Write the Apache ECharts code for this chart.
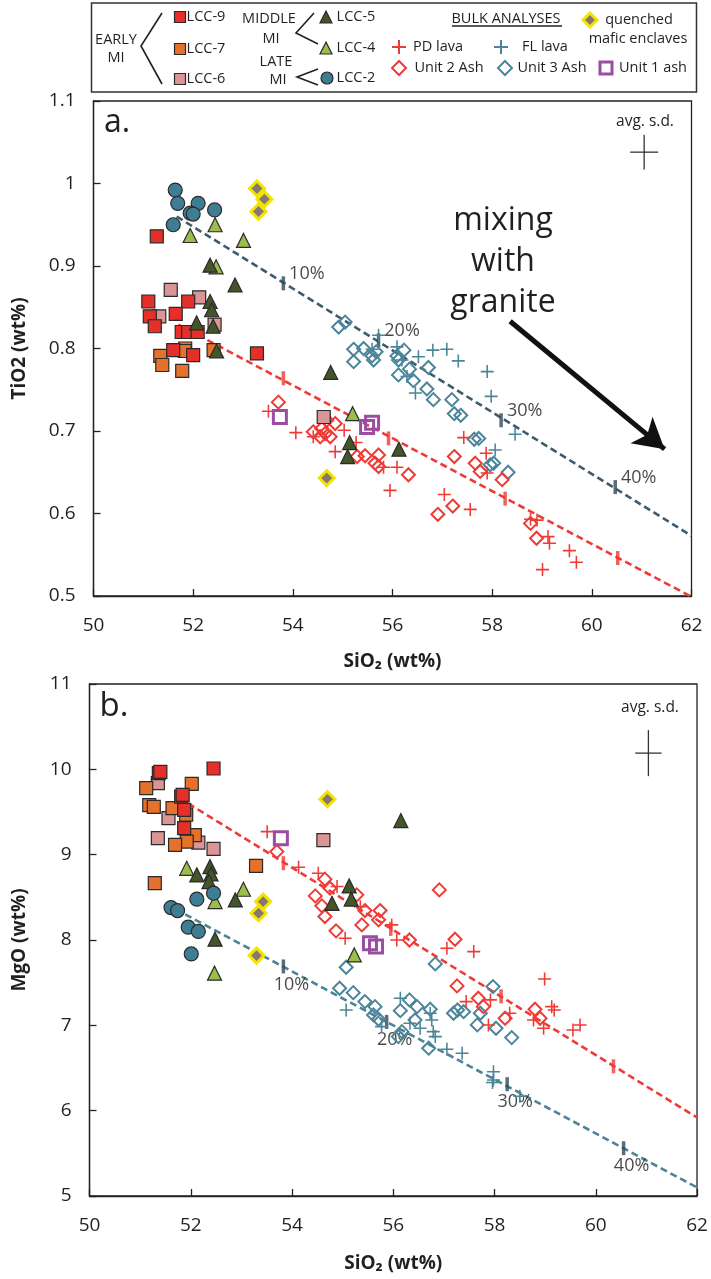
<!DOCTYPE html>
<html><head><meta charset="utf-8">
<script src="https://cdn.jsdelivr.net/npm/echarts@6/dist/echarts.min.js"></script>
<style>html,body{margin:0;padding:0;background:#fff}#c{width:711px;height:1279px}</style>
</head><body><div id="c"></div>
<script>
// ---------- DATA (SiO2, value) ----------
// Panel a: TiO2
const a_LCC9 = [[51.27,0.936],[51.10,0.857],[51.90,0.857],[51.13,0.839],[51.65,0.842],[51.23,0.827],[51.77,0.820],[51.90,0.820],[52.09,0.820],[51.60,0.798],[52.00,0.792],[53.28,0.794]];
const a_LCC7 = [[51.84,0.800],[51.83,0.797],[51.34,0.791],[51.38,0.780],[51.78,0.773],[52.41,0.798]];
const a_LCC6 = [[51.55,0.871],[52.12,0.862],[51.32,0.839],[52.43,0.829],[54.62,0.717]];
const a_LCC5 = [[52.34,0.901],[52.84,0.877],[52.34,0.857],[52.37,0.847],[52.07,0.831],[52.40,0.827],[52.47,0.797],[54.76,0.771],[55.14,0.686],[55.10,0.669],[56.13,0.678]];
const a_LCC4 = [[52.44,0.950],[51.94,0.937],[53.01,0.931],[52.46,0.899],[55.20,0.721]];
const a_LCC2 = [[51.64,0.992],[51.69,0.976],[52.10,0.976],[51.94,0.964],[52.00,0.963],[52.43,0.968],[51.60,0.950]];
const a_quenched = [[53.28,0.994],[53.43,0.981],[53.31,0.966],[54.68,0.643]];
const a_unit1 = [[53.74,0.717],[55.49,0.705],[55.59,0.710]];
const a_PD = [[53.51,0.724],[54.06,0.698],[54.41,0.693],[55.03,0.701],[54.85,0.675],[55.27,0.686],[55.82,0.656],[56.09,0.656],[55.95,0.628],[57.04,0.623],[57.56,0.605],[57.43,0.692],[57.88,0.673],[57.90,0.649],[58.77,0.593],[58.90,0.592],[59.12,0.572],[59.15,0.564],[59.55,0.555],[59.69,0.541],[59.01,0.532]];
const a_unit2 = [[53.71,0.735],[54.41,0.699],[54.58,0.703],[54.65,0.697],[54.75,0.693],[54.68,0.713],[54.85,0.709],[54.55,0.693],[55.29,0.669],[55.45,0.670],[55.72,0.671],[55.65,0.661],[55.72,0.657],[56.32,0.647],[57.24,0.669],[57.66,0.661],[57.76,0.651],[58.20,0.641],[57.21,0.609],[56.91,0.599],[58.77,0.588],[58.89,0.570]];
const a_FL = [[55.72,0.816],[56.09,0.802],[56.52,0.790],[56.81,0.798],[57.09,0.799],[57.32,0.785],[57.90,0.772],[57.98,0.742],[58.46,0.696],[58.06,0.677],[56.29,0.766],[56.46,0.746],[56.19,0.786],[55.59,0.799]];
const a_unit3 = [[54.92,0.826],[55.05,0.832],[55.22,0.799],[55.22,0.784],[55.42,0.800],[55.59,0.791],[55.62,0.786],[55.67,0.796],[56.09,0.791],[56.12,0.786],[56.23,0.798],[56.12,0.768],[56.34,0.775],[56.42,0.761],[56.69,0.751],[56.82,0.738],[56.72,0.777],[57.19,0.738],[57.24,0.721],[57.37,0.719],[57.64,0.690],[57.73,0.691],[57.96,0.659],[58.03,0.661],[58.32,0.650]];
const a_blueLine = [[51.67,0.960],[62,0.573]];
const a_redLine = [[51.70,0.829],[62,0.499]];
const a_blueTicks = [[53.81,0.879],[55.72,0.810],[58.18,0.713],[60.47,0.632]];
const a_redTicks = [[53.81,0.764],[55.92,0.691],[58.26,0.618],[60.52,0.546]];
const a_arrow = [[58.36,0.833],[61.46,0.678]];
const a_sd = [[61.05,1.038,0.28,0.021]];

// Panel b: MgO
const b_LCC9 = [[51.37,9.955],[51.40,9.97],[52.45,10.01],[51.81,9.68],[51.87,9.525],[51.87,9.31],[51.84,9.70]];
const b_LCC7 = [[51.12,9.78],[52.02,9.83],[51.18,9.58],[51.27,9.56],[51.64,9.545],[51.91,9.47],[52.08,9.23],[51.92,9.154],[51.69,9.115],[53.29,8.869],[51.29,8.666]];
const b_LCC6 = [[51.35,9.838],[51.56,9.428],[51.35,9.193],[52.15,9.142],[52.45,9.068],[54.62,9.17]];
const b_LCC5 = [[52.12,8.763],[52.38,8.86],[52.40,8.775],[52.36,8.685],[52.88,8.47],[52.48,8.01],[54.79,8.43],[55.13,8.634],[55.17,8.48],[56.15,9.40]];
const b_LCC4 = [[51.92,8.84],[53.04,8.595],[52.48,8.45],[52.47,7.611],[55.23,7.825]];
const b_LCC2 = [[52.12,8.478],[52.45,8.549],[51.61,8.38],[51.74,8.345],[51.95,8.15],[52.15,8.10],[52.01,7.837]];
const b_quenched = [[53.43,8.45],[53.34,8.314],[53.30,7.817],[54.70,9.65]];
const b_unit1 = [[53.78,9.193],[55.54,7.962],[55.66,7.923]];
const b_PD = [[53.51,9.27],[54.13,8.853],[54.52,8.783],[54.89,8.626],[55.05,8.02],[55.35,8.39],[55.97,8.177],[56.07,8.00],[57.06,7.904],[57.59,7.864],[58.99,7.544],[57.44,7.278],[57.92,7.298],[57.88,7.005],[58.30,7.142],[58.77,7.063],[59.13,7.219],[59.18,7.18],[58.97,6.966],[59.55,6.946],[59.69,7.005]];
const b_unit2 = [[53.70,9.036],[54.65,8.713],[54.75,8.607],[54.46,8.517],[54.59,8.40],[54.65,8.275],[54.87,8.107],[55.28,8.529],[55.44,8.345],[55.74,8.345],[55.71,8.236],[55.38,8.177],[56.32,8.00],[56.91,8.587],[57.22,8.009],[57.26,7.462],[57.68,7.318],[57.78,7.219],[58.21,7.083],[58.80,7.189],[58.90,7.083]];
const b_FL = [[55.07,7.18],[56.14,7.318],[56.33,7.025],[56.53,6.966],[56.79,6.926],[56.83,6.868],[57.06,6.72],[57.36,6.673],[57.98,6.457],[57.98,6.36],[55.77,6.985],[56.73,7.142],[56.76,7.063],[58.50,6.17],[57.96,6.33]];
const b_unit3 = [[55.07,7.681],[56.83,7.72],[57.97,7.454],[54.94,7.435],[55.21,7.383],[55.44,7.278],[55.64,7.219],[55.61,7.122],[55.71,7.071],[56.14,7.172],[56.32,7.298],[56.47,7.219],[56.73,7.189],[56.43,7.063],[57.19,7.142],[57.27,7.18],[57.39,7.16],[57.72,7.142],[57.66,7.005],[58.03,6.966],[58.34,6.856],[56.17,6.926],[56.10,6.868],[56.70,6.732]];
const b_blueLine = [[51.89,8.30],[62,5.10]];
const b_redLine = [[51.95,9.60],[62,5.92]];
const b_blueTicks = [[53.83,7.69],[55.87,7.04],[58.25,6.31],[60.55,5.56]];
const b_redTicks = [[53.83,8.90],[55.95,8.13],[58.13,7.34],[60.35,6.52]];
const b_sd = [[61.04,10.19,0.26,0.27]];

const pctLabels = ['10%','20%','30%','40%'];
const xTicks = [50,52,54,56,58,60,62];

// ---------- STYLE ----------
const FONT = '"Open Sans", "Noto Sans", sans-serif';
const TXT = '#231F20';
const C = {
  lcc9:'#E52F28', lcc7:'#E5712B', lcc6:'#DA9596', lcc5:'#45552A', lcc4:'#9CBC4C', lcc2:'#3E7E94',
  qFill:'#85786F', qBorder:'#F2E400', pd:'#EE3B36', fl:'#4B8599', u1:'#9B4CA3',
  lineA:'#3D5B6B', lineB:'#4C8497', edge:'#2A2A2A'
};
const PLUS = 'path://M44,0h12v44h44v12h-44v44h-12v-44h-44v-12h44z';

function sc(data, gi, symbol, size, color, border, bw, z) {
  return {type:'scatter', data, xAxisIndex:gi, yAxisIndex:gi, symbol, symbolSize:size,
    itemStyle:{color, borderColor:border, borderWidth:bw, opacity:1}, z, silent:true};
}
function dashLine(data, gi, color) {
  return {type:'line', data, xAxisIndex:gi, yAxisIndex:gi, symbol:'none', z:2, silent:true,
    lineStyle:{color, width:2.6, type:[7,4]}};
}
function ticks(data, gi, color, labelCfg) {
  return {type:'scatter', data, xAxisIndex:gi, yAxisIndex:gi, symbol:'rect', symbolSize:[3.5,14],
    itemStyle:{color}, z:3, silent:true,
    label: labelCfg ? Object.assign({show:true, formatter:p=>pctLabels[p.dataIndex], fontFamily:FONT, fontSize:18, color:'#1a1a1a'}, labelCfg) : {show:false}};
}
function sdCross(data, gi) {
  return {type:'custom', data, xAxisIndex:gi, yAxisIndex:gi, z:3, silent:true,
    renderItem:(params, api) => {
      const x = api.value(0), y = api.value(1), dx = api.value(2), dy = api.value(3);
      const l = api.coord([x-dx,y]), r = api.coord([x+dx,y]), t = api.coord([x,y+dy]), b = api.coord([x,y-dy]);
      const st = {stroke:'#333', lineWidth:1.3};
      return {type:'group', children:[
        {type:'line', shape:{x1:l[0],y1:l[1],x2:r[0],y2:r[1]}, style:st},
        {type:'line', shape:{x1:t[0],y1:t[1],x2:b[0],y2:b[1]}, style:st}]};
    }};
}
function panelSeries(gi, d) {
  const s = [];
  s.push(dashLine(d.blueLine, gi, d.lineBlue));
  s.push(dashLine(d.redLine, gi, C.pd));
  s.push(ticks(d.blueTicks, gi, '#2F4A58', d.labelCfg));
  s.push(ticks(d.redTicks, gi, C.pd, null));
  s.push(sc(d.FL, gi, PLUS, 13, C.fl, 'transparent', 0, 4));
  s.push(sc(d.unit3, gi, 'diamond', 13, 'rgba(0,0,0,0)', C.fl, 2, 4));
  s.push(sc(d.PD, gi, PLUS, 13, C.pd, 'transparent', 0, 5));
  s.push(sc(d.unit2, gi, 'diamond', 13, 'rgba(0,0,0,0)', C.pd, 2, 5));
  s.push(sc(d.LCC6, gi, 'rect', 13, C.lcc6, C.edge, 1.2, 6));
  s.push(sc(d.LCC7, gi, 'rect', 13, C.lcc7, C.edge, 1.2, 6));
  s.push(sc(d.LCC9, gi, 'rect', 13, C.lcc9, C.edge, 1.2, 6));
  s.push(sc(d.LCC4, gi, 'triangle', 14, C.lcc4, C.edge, 1.2, 7));
  s.push(sc(d.LCC5, gi, 'triangle', 14, C.lcc5, C.edge, 1.2, 7));
  s.push(sc(d.LCC2, gi, 'circle', 14, C.lcc2, C.edge, 1.2, 7));
  s.push(sc(d.unit1, gi, 'rect', 13, 'rgba(0,0,0,0)', C.u1, 3, 8));
  s.push(sc(d.quenched, gi, 'diamond', 15, C.qFill, C.qBorder, 3, 8));
  s.push(sdCross(d.sd, gi));
  return s;
}

const seriesA = panelSeries(0, {blueLine:a_blueLine, redLine:a_redLine, blueTicks:a_blueTicks, redTicks:a_redTicks,
  lineBlue:C.lineA, labelCfg:{position:'right', distance:4, offset:[0,-9]},
  FL:a_FL, unit3:a_unit3, PD:a_PD, unit2:a_unit2, LCC6:a_LCC6, LCC7:a_LCC7, LCC9:a_LCC9, LCC4:a_LCC4, LCC5:a_LCC5, LCC2:a_LCC2, unit1:a_unit1, quenched:a_quenched, sd:a_sd});
const seriesB = panelSeries(1, {blueLine:b_blueLine, redLine:b_redLine, blueTicks:b_blueTicks, redTicks:b_redTicks,
  lineBlue:C.lineB, labelCfg:{position:'bottom', distance:2, offset:[8,0]},
  FL:b_FL, unit3:b_unit3, PD:b_PD, unit2:b_unit2, LCC6:b_LCC6, LCC7:b_LCC7, LCC9:b_LCC9, LCC4:b_LCC4, LCC5:b_LCC5, LCC2:b_LCC2, unit1:b_unit1, quenched:b_quenched, sd:b_sd});
// arrow "mixing with granite"
seriesA.push({type:'line', data:a_arrow, xAxisIndex:0, yAxisIndex:0, symbol:'none', z:3, silent:true,
  lineStyle:{color:'#111', width:5},
  markLine:{silent:true, symbol:['none','arrow'], symbolSize:[26,30], animation:false,
    lineStyle:{color:'#111', width:0.01, type:'solid'}, label:{show:false},
    data:[[{coord:a_arrow[0]},{coord:a_arrow[1]}]]}});

function xAx(gi, gap) {
  return {type:'value', gridIndex:gi, min:50, max:62, interval:2,
    name:'SiO₂ (wt%)', nameLocation:'middle', nameGap:gap,
    nameTextStyle:{fontFamily:FONT, fontSize:19, fontWeight:'bold', color:TXT},
    axisLine:{show:true, lineStyle:{color:'#222', width:1.3}},
    axisTick:{show:true, inside:true, length:7, lineStyle:{color:'#222', width:1.3}},
    axisLabel:{fontFamily:FONT, fontSize:19, color:TXT, margin:20},
    splitLine:{show:false}};
}
function yAx(gi, min, max, interval, name, gap) {
  return {type:'value', gridIndex:gi, min, max, interval,
    name, nameLocation:'middle', nameGap:gap, nameRotate:90,
    nameTextStyle:{fontFamily:FONT, fontSize:19, fontWeight:'bold', color:TXT},
    axisLine:{show:true, lineStyle:{color:'#222', width:1.3}},
    axisTick:{show:true, inside:true, length:7, lineStyle:{color:'#222', width:1.3}},
    axisLabel:{fontFamily:FONT, fontSize:19, color:TXT, margin:18},
    splitLine:{show:false}};
}

// ---------- LEGEND (graphic) ----------
const T = (x, y, text, extra) => Object.assign({type:'text', x, y, silent:true,
  style:Object.assign({text, fontFamily:FONT, fontSize:14.5, fill:TXT, align:'center', verticalAlign:'middle'}, (extra||{}).style||{})}, {z:10});
const PL = (pts, stroke, w) => ({type:'polyline', silent:true, z:10, shape:{points:pts}, style:{stroke:stroke||'#222', lineWidth:w||1.6, fill:null}});
const sq = (cx, cy, s, fill, stroke, lw) => ({type:'rect', silent:true, z:10, shape:{x:cx-s/2, y:cy-s/2, width:s, height:s}, style:{fill, stroke, lineWidth:lw}});
const tri = (cx, cy, s, fill) => ({type:'polygon', silent:true, z:10, shape:{points:[[cx,cy-s/2],[cx+s/2,cy+s/2],[cx-s/2,cy+s/2]]}, style:{fill, stroke:C.edge, lineWidth:1.2}});
const dia = (cx, cy, s, fill, stroke, lw) => ({type:'polygon', silent:true, z:10, shape:{points:[[cx,cy-s/2],[cx+s/2,cy],[cx,cy+s/2],[cx-s/2,cy]]}, style:{fill, stroke, lineWidth:lw}});
const plusH = (cx, cy, s, col) => ({type:'line', silent:true, z:10, shape:{x1:cx-s/2,y1:cy,x2:cx+s/2,y2:cy}, style:{stroke:col, lineWidth:2}});
const plusV = (cx, cy, s, col) => ({type:'line', silent:true, z:10, shape:{x1:cx,y1:cy-s/2,x2:cx,y2:cy+s/2}, style:{stroke:col, lineWidth:2}});

const legendGraphics = [
  {type:'rect', silent:true, z:9, shape:{x:91.5, y:3, width:605, height:89}, style:{fill:'#fff', stroke:'#333', lineWidth:1.5}},
  T(116, 40, 'EARLY'), T(116, 58, 'MI'),
  PL([[162,13],[141,46],[162,84]]),
  sq(180, 17, 11, C.lcc9, C.edge, 1.2), T(206, 17, 'LCC-9'),
  sq(180, 49, 11, C.lcc7, C.edge, 1.2), T(206, 49, 'LCC-7'),
  sq(180, 79, 11, C.lcc6, C.edge, 1.2), T(206, 79, 'LCC-6'),
  T(269, 19, 'MIDDLE'), T(271, 39, 'MI'),
  PL([[314,13],[296,33],[318,44]]),
  tri(326, 17, 12, C.lcc5), T(356, 17, 'LCC-5'),
  tri(326, 48, 12, C.lcc4), T(356, 48, 'LCC-4'),
  T(276, 62, 'LATE'), T(278, 80, 'MI'),
  PL([[318,69],[297,77],[318,85]]),
  {type:'circle', silent:true, z:10, shape:{cx:327, cy:78, r:6}, style:{fill:C.lcc2, stroke:C.edge, lineWidth:1.2}},
  T(356, 78, 'LCC-2'),
  T(506, 19, 'BULK ANALYSES'),
  {type:'line', silent:true, z:10, shape:{x1:452, y1:26, x2:562, y2:26}, style:{stroke:'#222', lineWidth:1.3}},
  plusH(399, 47, 14, C.pd), plusV(399, 47, 14, C.pd), T(438, 47, 'PD lava'),
  plusH(501, 47, 14, C.fl), plusV(501, 47, 14, C.fl), T(545, 47, 'FL lava'),
  dia(399, 68, 14, 'none', C.pd, 2), T(449, 68, 'Unit 2 Ash'),
  dia(505, 68, 14, 'none', C.fl, 2), T(552, 68, 'Unit 3 Ash'),
  sq(606, 68, 12, 'none', C.u1, 3), T(653, 68, 'Unit 1 ash'),
  dia(590, 20, 14, C.qFill, C.qBorder, 3), T(639, 20, 'quenched'), T(638, 39, 'mafic enclaves'),
  // panel annotations
  T(117, 123, 'a.', {style:{fontSize:32}}),
  T(114, 707, 'b.', {style:{fontSize:33}}),
  T(645, 122, 'avg. s.d.', {style:{fontSize:15.5}}),
  T(650, 708, 'avg. s.d.', {style:{fontSize:15.5}}),
  T(503, 262, 'mixing\nwith\ngranite', {style:{fontSize:32, lineHeight:41}})
];

const option = {
  animation:false,
  backgroundColor:'#fff',
  grid:[
    {left:93.5, top:101, width:598, height:495, show:true, borderColor:'#222', borderWidth:1.3, backgroundColor:'transparent'},
    {left:89.5, top:684, width:607.5, height:512, show:true, borderColor:'#222', borderWidth:1.3, backgroundColor:'transparent'}
  ],
  xAxis:[xAx(0, 56), xAx(1, 58)],
  yAxis:[yAx(0, 0.5, 1.1, 0.1, 'TiO2 (wt%)', 64), yAx(1, 5, 11, 1, 'MgO (wt%)', 60)],
  series: seriesA.concat(seriesB),
  graphic: legendGraphics
};
const chart = echarts.init(document.getElementById('c'), null, {renderer:'canvas'});
chart.setOption(option);
</script></body></html>
